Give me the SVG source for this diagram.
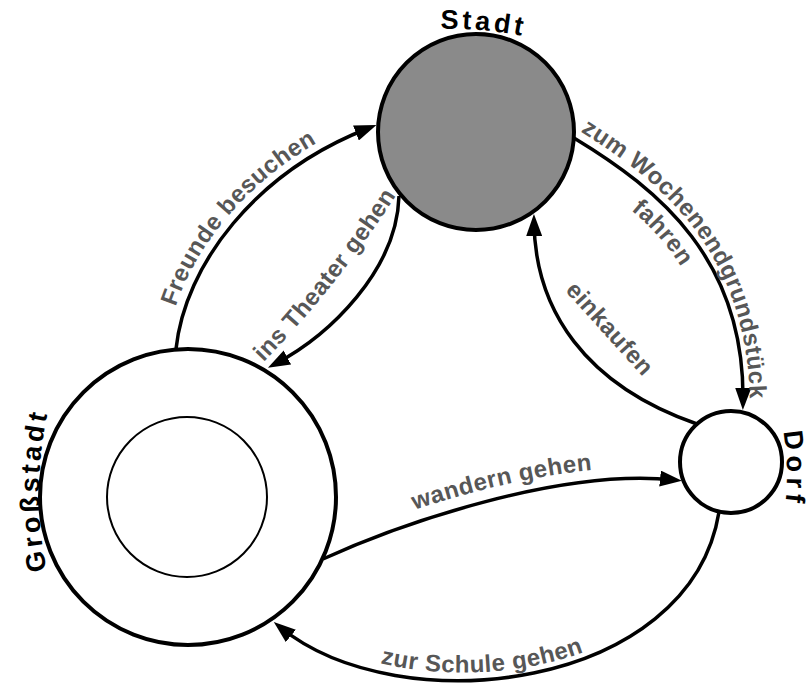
<svg xmlns="http://www.w3.org/2000/svg" xmlns:xlink="http://www.w3.org/1999/xlink" width="806" height="688" viewBox="0 0 806 688">
<style>
.node{stroke:#000;stroke-width:4}
.inner{fill:none;stroke:#000;stroke-width:2}
.edge{fill:none;stroke:#000;stroke-width:3.5;marker-end:url(#arr)}
.nlabel{font-family:"Liberation Sans",Arial,sans-serif;font-weight:bold;font-size:27px;letter-spacing:3.5px;fill:#000}
.elabel{font-family:"Liberation Sans",Arial,sans-serif;font-weight:bold;font-size:24px;letter-spacing:0.5px;fill:#575757}
</style>
<defs>
<marker id="arr" markerUnits="userSpaceOnUse" markerWidth="22" markerHeight="16" refX="14" refY="8" orient="auto">
<path d="M0,0 L22,8 L0,16 z" fill="#000"/>
</marker>
<path id="pStadt" d="M436,29 A400,400 0 0 1 528,37"/>
<path id="pGross" d="M48.6,580 A390,390 0 0 1 48.2,410"/>
<path id="pDorf" d="M777,405 A250,250 0 0 1 777,545"/>
<path id="t1" d="M167,346 C176,263 249,164 371,117"/>
<path id="t2" d="M247,379 Q340,287 409,175"/>
<path id="t3" d="M578,130 C665,184 752,256 750,415"/>
<path id="t3b" d="M556,158 C640,210 716,262 714,402"/>
<path id="t4" d="M556,281 L652,387"/>
<path id="t5" d="M318,547 C396,512 560,455 681,470"/>
<path id="t6" d="M279,616 C402,717 688,682 710,516"/>
</defs>
<rect width="806" height="688" fill="#fff"/>
<g id="connectors">
<path id="e1" class="edge" d="M176,349 C185,265 255,172 369,128"/>
<path id="e2" class="edge" d="M399,196 C397,270 330,335 275,364"/>
<path id="e3" class="edge" d="M574,138 C660,190 745,260 743,402"/>
<path id="e4" class="edge" d="M697,424 C585,385 535,310 534,222"/>
<path id="e5" class="edge" d="M323,559 C400,524 560,468 674,480"/>
<path id="e6" class="edge" d="M719,512 C690,690 400,725 280,627"/>
</g>
<g id="node-stadt">
<circle class="node" cx="476" cy="132" r="98" fill="#8a8a8a"/>
<text class="nlabel" text-anchor="middle"><textPath xlink:href="#pStadt" startOffset="47">Stadt</textPath></text>
</g>
<g id="node-grossstadt">
<circle class="node" cx="188" cy="497" r="148" fill="#fff"/>
<circle class="inner" cx="187" cy="497" r="80"/>
<text class="nlabel" text-anchor="middle"><textPath xlink:href="#pGross" startOffset="90">Großstadt</textPath></text>
</g>
<g id="node-dorf">
<circle class="node" cx="731" cy="462" r="51" fill="#fff"/>
<text class="nlabel" text-anchor="middle" style="letter-spacing:5px"><textPath xlink:href="#pDorf" startOffset="65">Dorf</textPath></text>
</g>
<g id="edge-labels">
<text class="elabel" text-anchor="middle"><textPath xlink:href="#t1" startOffset="47%">Freunde besuchen</textPath></text>
<text class="elabel" text-anchor="middle"><textPath xlink:href="#t2" startOffset="50%">ins Theater gehen</textPath></text>
<text class="elabel" text-anchor="start"><textPath xlink:href="#t3" startOffset="3">zum Wochenendgrundstück</textPath></text>
<text class="elabel" text-anchor="middle"><textPath xlink:href="#t3b" startOffset="42%">fahren</textPath></text>
<text class="elabel" text-anchor="middle"><textPath xlink:href="#t4" startOffset="50%">einkaufen</textPath></text>
<text class="elabel" text-anchor="middle"><textPath xlink:href="#t5" startOffset="52%">wandern gehen</textPath></text>
<text class="elabel" text-anchor="middle"><textPath xlink:href="#t6" startOffset="42%">zur Schule gehen</textPath></text>
</g>
</svg>
